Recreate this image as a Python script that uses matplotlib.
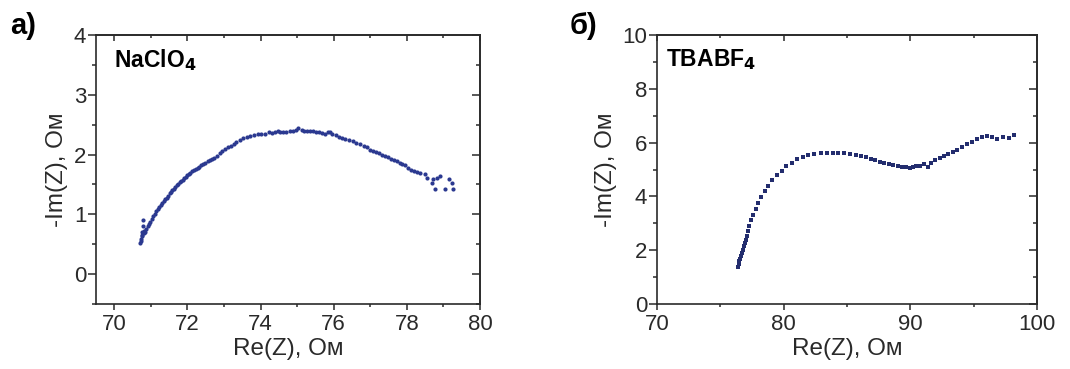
import matplotlib
matplotlib.use("Agg")
import matplotlib.pyplot as plt
from matplotlib.ticker import MultipleLocator

plt.rcParams['font.family'] = ['Liberation Sans', 'DejaVu Sans']

# Panel a) NaClO4
re_a = [70.70, 70.72, 70.74, 70.75, 70.76, 70.78, 70.78, 70.77, 70.80, 70.82,
        70.85, 70.88, 70.92, 70.95, 70.99, 71.03, 71.07, 71.11, 71.15, 71.19,
        71.23, 71.27, 71.31, 71.35, 71.39, 71.43, 71.47, 71.51, 71.55, 71.59,
        71.63, 71.67, 71.71, 71.75, 71.79, 71.83, 71.87, 71.91, 71.95, 71.99,
        72.03, 72.08, 72.13, 72.18, 72.23, 72.28, 72.33, 72.38, 72.43, 72.49,
        72.55, 72.61, 72.67, 72.73, 72.80, 72.88, 72.95, 73.02, 73.10, 73.18,
        73.26, 73.34, 73.44, 73.53, 73.62, 73.72, 73.82, 73.92, 74.02, 74.12,
        74.22, 74.32, 74.40, 74.47, 74.53, 74.60, 74.70, 74.80, 74.90, 74.97,
        75.03, 75.12, 75.20, 75.28, 75.36, 75.44, 75.52, 75.60, 75.68, 75.76,
        75.84, 75.90, 75.96, 76.05, 76.14, 76.23, 76.32, 76.42, 76.52, 76.62,
        76.72, 76.82, 76.92, 77.00, 77.08, 77.16, 77.24, 77.32, 77.40, 77.48,
        77.56, 77.64, 77.72, 77.80, 77.88, 77.96, 78.04, 78.12, 78.20, 78.28,
        78.36, 78.50, 78.55, 78.68, 78.72, 78.83, 78.91, 78.78, 79.05, 79.14,
        79.23, 79.27]
im_a = [0.52, 0.58, 0.55, 0.63, 0.70, 0.90, 0.80, 0.66, 0.68, 0.72,
        0.70, 0.75, 0.80, 0.84, 0.88, 0.92, 0.97, 1.01, 1.05, 1.09,
        1.12, 1.15, 1.19, 1.22, 1.25, 1.28, 1.31, 1.35, 1.37, 1.41,
        1.43, 1.46, 1.49, 1.51, 1.54, 1.56, 1.58, 1.61, 1.62, 1.65,
        1.67, 1.69, 1.72, 1.74, 1.76, 1.78, 1.80, 1.82, 1.84, 1.86,
        1.89, 1.91, 1.93, 1.95, 1.97, 2.03, 2.06, 2.09, 2.12, 2.15,
        2.18, 2.21, 2.24, 2.27, 2.29, 2.31, 2.32, 2.34, 2.34, 2.35,
        2.37, 2.36, 2.37, 2.40, 2.37, 2.38, 2.38, 2.39, 2.40, 2.41,
        2.44, 2.41, 2.40, 2.40, 2.39, 2.39, 2.38, 2.37, 2.36, 2.35,
        2.37, 2.38, 2.34, 2.32, 2.30, 2.28, 2.26, 2.24, 2.22, 2.19,
        2.17, 2.14, 2.12, 2.08, 2.06, 2.04, 2.02, 2.00, 1.98, 1.96,
        1.93, 1.91, 1.89, 1.86, 1.84, 1.82, 1.77, 1.75, 1.73, 1.71,
        1.69, 1.67, 1.60, 1.52, 1.59, 1.61, 1.64, 1.42, 1.42, 1.59,
        1.52, 1.43]

# Panel б) TBABF4
re_b = [76.40, 76.45, 76.50, 76.55, 76.62, 76.70, 76.78, 76.88, 76.95, 77.02,
        77.10, 77.20, 77.28, 77.40, 77.59, 77.78, 77.98, 78.25, 78.51, 78.78,
        79.07, 79.44, 79.83, 80.20, 80.62, 81.07, 81.54, 81.94, 82.41, 82.92,
        83.39, 83.89, 84.31, 84.74, 85.23, 85.71, 86.10, 86.50, 86.87, 87.23,
        87.60, 87.95, 88.29, 88.66, 89.00, 89.34, 89.66, 89.97, 90.19, 90.45,
        90.77, 91.08, 91.38, 91.64, 91.98, 92.35, 92.69, 93.00, 93.35, 93.72,
        94.09, 94.46, 94.86, 95.25, 95.67, 96.09, 96.48, 96.88, 97.30, 97.80,
        98.22]
im_b = [1.39, 1.48, 1.58, 1.68, 1.78, 1.88, 2.00, 2.15, 2.25, 2.38,
        2.52, 2.71, 2.90, 3.12, 3.30, 3.52, 3.74, 3.98, 4.20, 4.39,
        4.60, 4.79, 4.95, 5.12, 5.26, 5.38, 5.47, 5.53, 5.57, 5.61,
        5.62, 5.63, 5.62, 5.60, 5.58, 5.55, 5.50, 5.45, 5.38, 5.34,
        5.27, 5.24, 5.19, 5.15, 5.12, 5.10, 5.09, 5.06, 5.10, 5.12,
        5.14, 5.19, 5.10, 5.26, 5.34, 5.41, 5.50, 5.57, 5.66, 5.74,
        5.84, 5.94, 6.03, 6.13, 6.20, 6.26, 6.19, 6.13, 6.21, 6.16,
        6.30]

W, H = 1070, 369
fig = plt.figure(figsize=(W / 100, H / 100), dpi=100)

ax1 = fig.add_axes([96 / W, 1 - 304 / H, 384 / W, 269 / H])
ax2 = fig.add_axes([657 / W, 1 - 304 / H, 380 / W, 269 / H])

ax1.scatter(re_a, im_a, s=9, marker='o', color='#2b3990', linewidths=0, zorder=3)
ax2.scatter(re_b, im_b, s=6.5, marker='s', color='#232d6e', linewidths=0, zorder=3)

ax1.set_xlim(69.5, 80)
ax1.set_ylim(-0.5, 4)
ax2.set_xlim(70, 100)
ax2.set_ylim(0, 10)

steps = {ax1: (2, 1, 1, 0.5), ax2: (10, 5, 2, 1)}
dark = '#2a2a2a'

for ax, (xM, xm, yM, ym) in steps.items():
    ax.xaxis.set_major_locator(MultipleLocator(xM))
    ax.xaxis.set_minor_locator(MultipleLocator(xm))
    ax.yaxis.set_major_locator(MultipleLocator(yM))
    ax.yaxis.set_minor_locator(MultipleLocator(ym))
    for sp in ax.spines.values():
        sp.set_linewidth(1.2)
        sp.set_color(dark)
    ax.tick_params(which='both', direction='out', width=1.1, colors=dark,
                   labelsize=16)
    ax.tick_params(axis='x', which='major', length=4, pad=3)
    ax.tick_params(axis='x', which='minor', length=2.5)
    ax.tick_params(axis='y', which='major', length=6, pad=1)
    ax.tick_params(axis='y', which='minor', length=3)
    # mirrored ticks on top and right, pointing inward
    sx = ax.secondary_xaxis('top')
    sx.xaxis.set_major_locator(MultipleLocator(xM))
    sx.xaxis.set_minor_locator(MultipleLocator(xm))
    sx.tick_params(which='both', direction='in', labeltop=False, width=1.1, colors=dark)
    sx.tick_params(which='major', length=4)
    sx.tick_params(which='minor', length=2.5)
    sx.spines['top'].set_linewidth(1.2)
    sx.spines['top'].set_color(dark)
    sy = ax.secondary_yaxis('right')
    sy.yaxis.set_major_locator(MultipleLocator(yM))
    sy.yaxis.set_minor_locator(MultipleLocator(ym))
    sy.tick_params(which='both', direction='in', labelright=False, width=1.1, colors=dark)
    sy.tick_params(which='major', length=6)
    sy.tick_params(which='minor', length=3)
    sy.spines['right'].set_linewidth(1.2)
    sy.spines['right'].set_color(dark)
    ax.set_xlabel('Re(Z), Ом', fontsize=17.5, labelpad=2, color=dark)
    ax.set_ylabel('-Im(Z), Ом', fontsize=17.5, labelpad=4, color=dark)

ax1.text(0.047, 0.955, r'NaClO$_\mathbf{4}$', transform=ax1.transAxes,
         fontsize=16.5, fontweight='bold', va='top', ha='left')
ax2.text(0.024, 0.955, r'TBABF$_\mathbf{4}$', transform=ax2.transAxes,
         fontsize=16.5, fontweight='bold', va='top', ha='left')

fig.text(10 / W, 1 - 26 / H, 'а)', fontsize=21, fontweight='bold', va='center', ha='left')
fig.text(570 / W, 1 - 26 / H, 'б)', fontsize=21, fontweight='bold', va='center', ha='left')

fig.savefig('out.png', dpi=100)
